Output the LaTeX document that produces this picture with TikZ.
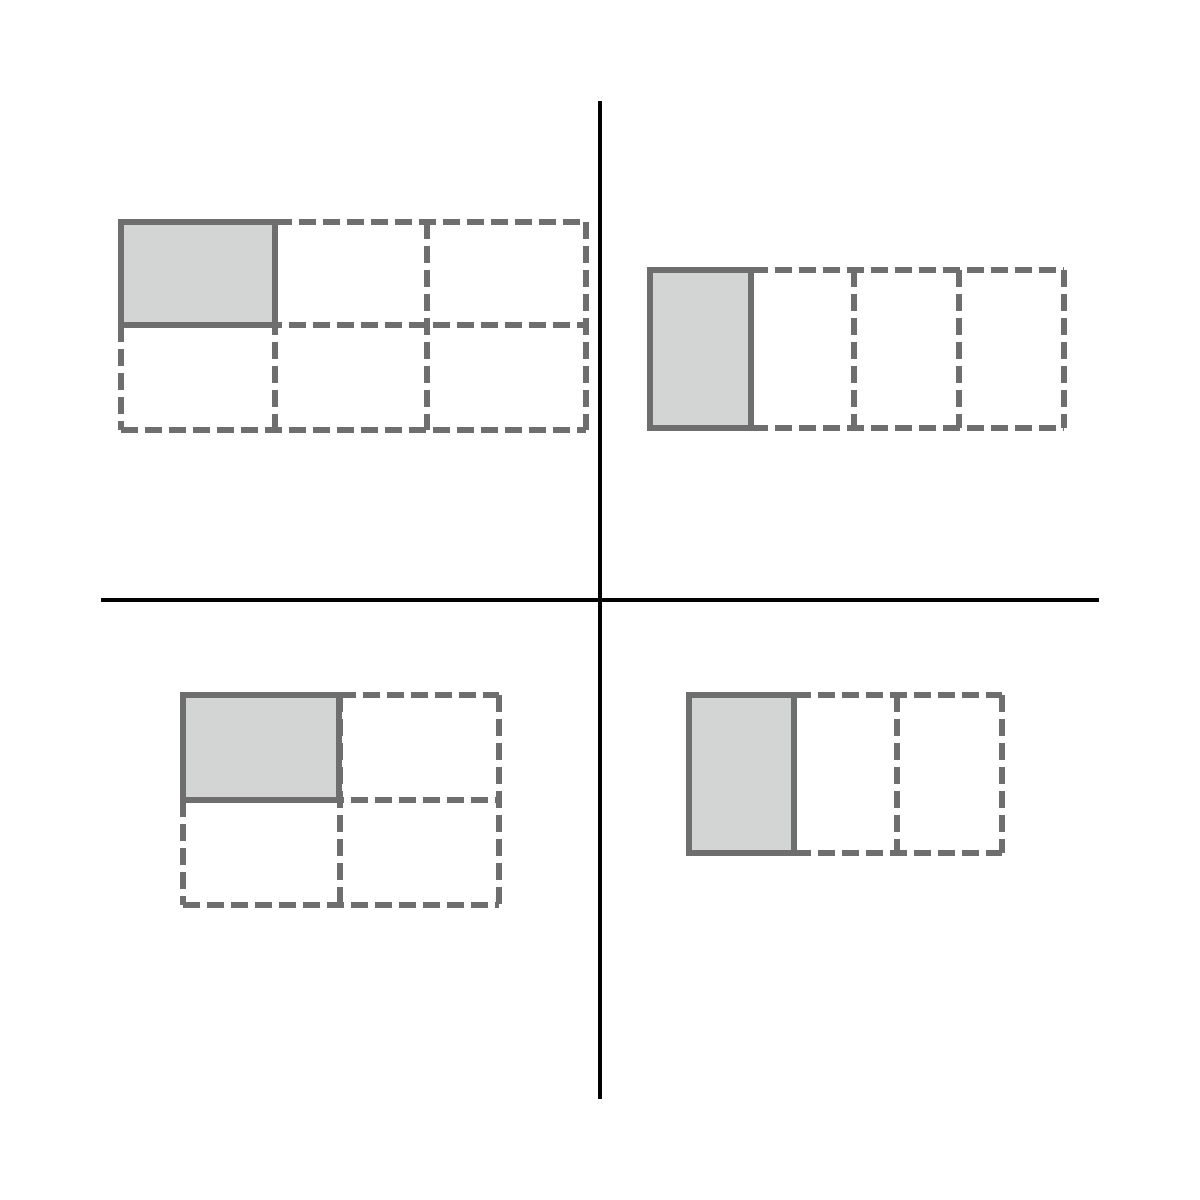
\documentclass[tikz,border=0pt]{standalone}
\definecolor{edge}{HTML}{6E6E6E}
\definecolor{cellfill}{HTML}{D3D5D4}
\tikzset{
  solidcell/.style={draw=edge, fill=cellfill, line width=5.5pt},
  dashcell/.style={draw=edge, line width=5.5pt, dash pattern=on 17pt off 7pt},
  axis/.style={draw=black, line width=3.3pt}
}
\begin{document}
\begin{tikzpicture}[x=1pt,y=-1pt]
\useasboundingbox (0,0) rectangle (1200,1200);
% axes
\draw[axis] (600,101) -- (600,1099);
\draw[axis] (101,600) -- (1099,600);
% top-left: 3x2
\draw[solidcell] (121,222) rectangle (275,325);
\draw[dashcell] (275,222) -- (586,222);
\draw[dashcell] (121,325) -- (586,325);
\draw[dashcell] (121,430) -- (586,430);
\draw[dashcell] (121,325) -- (121,430);
\draw[dashcell] (275,222) -- (275,430);
\draw[dashcell] (427,222) -- (427,430);
\draw[dashcell] (586,222) -- (586,430);
% top-right: 4x1
\draw[solidcell] (650,270) rectangle (751,428);
\draw[dashcell] (751,270) -- (1064,270);
\draw[dashcell] (751,428) -- (1064,428);
\draw[dashcell] (751,270) -- (751,428);
\draw[dashcell] (854,270) -- (854,428);
\draw[dashcell] (959,270) -- (959,428);
\draw[dashcell] (1064,270) -- (1064,428);
% bottom-left: 2x2
\draw[solidcell] (183,695) rectangle (339,800);
\draw[dashcell] (339,695) -- (499,695);
\draw[dashcell] (183,800) -- (499,800);
\draw[dashcell] (183,905) -- (499,905);
\draw[dashcell] (183,800) -- (183,905);
\draw[dashcell] (340,695) -- (340,905);
\draw[dashcell] (499,695) -- (499,905);
% bottom-right: 3x1
\draw[solidcell] (689,695) rectangle (794,853);
\draw[dashcell] (794,695) -- (1002,695);
\draw[dashcell] (794,853) -- (1002,853);
\draw[dashcell] (794,695) -- (794,853);
\draw[dashcell] (897,695) -- (897,853);
\draw[dashcell] (1002,695) -- (1002,853);
\end{tikzpicture}
\end{document}
